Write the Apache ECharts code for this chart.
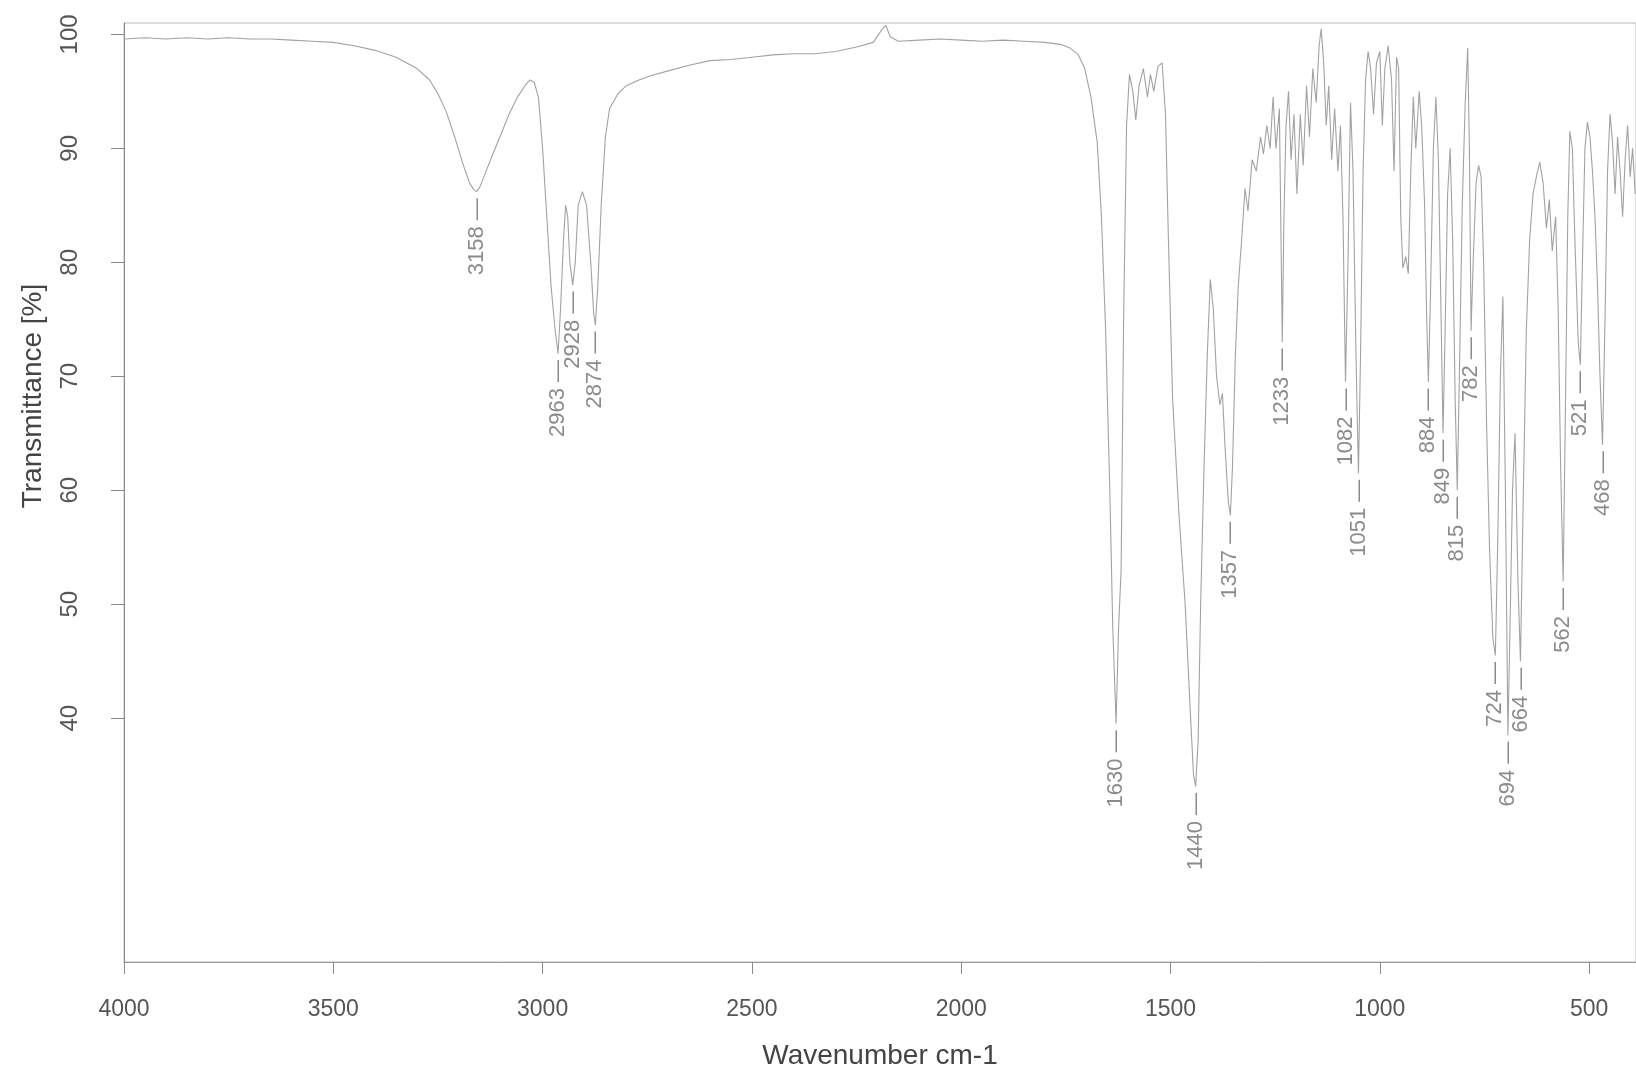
<!DOCTYPE html>
<html>
<head>
<meta charset="utf-8">
<script src="https://cdn.jsdelivr.net/npm/echarts@6/dist/echarts.min.js"></script>
<style>
html,body{margin:0;padding:0;background:#fff;}
#chart{width:1636px;height:1076px;}
</style>
</head>
<body>
<div id="chart"></div>
<script>
// ---- data ----
const wavenumbers = [
4000,3950,3900,3850,3800,3750,3700,3650,3600,3550,3500,3450,3400,3350,3300,3270,3250,3230,3210,3190,3175,3165,3158,3150,3135,3120,3100,3080,3060,3040,3030,3020,3010,3000,2990,2980,2970,2963,2957,2950,2945,2940,2935,2928,2922,2915,2905,2895,2885,2878,2874,2868,2860,2850,2840,2820,2800,2770,2740,2700,2650,2600,2550,2500,2450,2400,2350,2300,2250,2210,2190,2180,2170,2150,2100,2050,2000,1950,1900,1850,1800,1760,1740,1720,1705,1690,1675,1665,1655,1645,1638,1630,1624,1618,1612,1605,1598,1590,1583,1575,1565,1555,1548,1540,1530,1520,1512,1505,1495,1480,1465,1452,1445,1440,1434,1428,1420,1412,1405,1398,1390,1382,1376,1370,1362,1357,1352,1345,1338,1330,1322,1315,1305,1295,1285,1278,1270,1262,1255,1248,1240,1236,1233,1229,1224,1218,1212,1205,1198,1190,1183,1175,1168,1160,1152,1145,1140,1134,1128,1122,1115,1108,1100,1094,1088,1082,1076,1070,1064,1057,1051,1046,1040,1034,1028,1022,1015,1008,1000,994,988,980,972,966,960,955,950,945,938,932,926,920,914,906,900,893,888,884,879,872,866,860,854,849,844,838,832,826,820,815,810,803,796,790,786,782,777,770,764,758,752,745,738,730,724,718,712,706,700,694,689,683,677,670,664,658,650,642,634,626,618,610,602,595,588,580,574,568,562,557,551,546,540,534,526,521,516,510,504,498,492,486,480,474,468,462,456,450,444,438,432,426,420,414,408,402,396,390
];
const transmittance = [
99.6,99.7,99.6,99.7,99.6,99.7,99.6,99.6,99.5,99.4,99.3,99.0,98.6,98.0,97.0,96.0,94.8,93.2,91.0,88.6,87.0,86.4,86.2,86.6,88.0,89.4,91.2,93.0,94.5,95.6,96.0,95.8,94.5,90.0,84.0,78.0,74.0,72.0,76.0,82.0,85.0,84.0,80.0,78.0,80.0,85.0,86.2,85.0,80.0,75.5,74.5,78.0,85.0,91.0,93.5,94.8,95.5,96.0,96.4,96.8,97.3,97.7,97.8,98.0,98.2,98.3,98.3,98.5,98.9,99.3,100.4,100.8,99.8,99.4,99.5,99.6,99.5,99.4,99.5,99.4,99.3,99.1,98.8,98.2,97.0,94.5,90.5,84.0,74.0,60.0,48.0,39.5,48.0,53.0,75.0,92.0,96.5,95.0,92.5,95.5,97.0,94.5,96.5,95.0,97.2,97.5,93.0,82.0,68.0,58.0,50.0,40.0,35.0,34.0,38.0,50.0,62.0,72.0,78.5,76.0,70.0,67.5,68.5,64.0,59.0,57.8,62.0,72.0,78.0,82.0,86.5,84.5,89.0,88.0,91.0,89.5,92.0,90.0,94.5,90.0,93.5,82.0,73.0,84.0,92.0,95.0,89.0,93.0,86.0,93.0,88.5,95.5,91.0,97.0,94.0,99.0,100.5,97.5,92.0,95.5,89.0,93.5,88.0,92.0,84.0,69.5,80.0,94.0,88.0,72.0,61.5,72.0,88.0,96.0,98.5,97.0,93.0,97.5,98.5,92.0,97.0,99.0,96.0,88.0,98.0,97.0,84.0,79.5,80.5,79.0,88.0,94.5,90.0,95.0,92.0,85.0,75.0,69.5,77.0,90.0,94.5,89.0,76.0,65.0,74.0,86.0,90.0,82.0,68.0,60.0,70.0,85.0,94.0,98.8,90.0,74.0,80.0,87.0,88.5,87.5,80.0,66.0,55.0,47.0,45.5,56.0,70.0,77.0,60.0,38.5,48.0,60.0,65.0,52.0,45.0,58.0,74.0,82.0,86.0,87.5,88.8,87.0,83.0,85.5,81.0,84.0,76.0,62.0,52.0,66.0,84.0,91.5,90.0,82.0,73.0,71.0,80.0,90.0,92.3,91.0,88.0,84.0,78.0,70.0,64.0,75.0,88.0,93.0,90.5,86.0,91.0,88.0,84.0,89.0,92.0,87.5,90.0,86.0
];
const peakWavenumbers = [3158,2963,2928,2874,1630,1440,1357,1233,1082,1051,884,849,815,782,724,694,664,562,521,468];
const peakLabels = ['3158','2963','2928','2874','1630','1440','1357','1233','1082','1051','884','849','815','782','724','694','664','562','521','468'];
const xTickValues = [4000,3500,3000,2500,2000,1500,1000,500];
const yTickValues = [40,50,60,70,80,90,100];

// ---- build series data ----
const spectrum = wavenumbers.map((w, i) => [w, transmittance[i]]);
function valueAt(w) {
  let best = 0, bd = Infinity;
  wavenumbers.forEach((x, i) => { const d = Math.abs(x - w); if (d < bd) { bd = d; best = i; } });
  return transmittance[best];
}
const peaks = peakWavenumbers.map((w, i) => ({ value: [w, valueAt(w)], name: peakLabels[i] }));

const chart = echarts.init(document.getElementById('chart'), null, { renderer: 'canvas' });
const axisFont = "'Liberation Sans Narrow','Liberation Sans',Arial,sans-serif";
chart.setOption({
  animation: false,
  backgroundColor: '#ffffff',
  grid: { left: 124, right: 0, top: 23, bottom: 114, show: true, borderColor: '#b8b8b8', borderWidth: 1 },
  xAxis: {
    type: 'value', inverse: true, min: 388, max: 4000,
    name: 'Wavenumber cm-1', nameLocation: 'middle', nameGap: 80,
    nameTextStyle: { fontFamily: axisFont, fontSize: 28, color: '#444' },
    axisLine: { show: true, lineStyle: { color: '#9a9a9a', width: 1 } },
    axisTick: { show: true, length: 12, customValues: xTickValues, lineStyle: { color: '#8a8a8a' } },
    axisLabel: { customValues: xTickValues, margin: 36, fontFamily: axisFont, fontSize: 23, color: '#555',
      formatter: v => String(v) },
    splitLine: { show: false }
  },
  yAxis: {
    type: 'value', min: 18.6, max: 101,
    axisLine: { show: true, lineStyle: { color: '#8a8a8a', width: 1 } },
    axisTick: { show: true, length: 13, customValues: yTickValues, lineStyle: { color: '#8a8a8a' } },
    axisLabel: { customValues: yTickValues, rotate: 90, margin: 42, fontFamily: axisFont, fontSize: 24, color: '#555',
      formatter: v => String(v) },
    splitLine: { show: false }
  },
  graphic: [{
    type: 'text', x: 33, y: 396, rotation: Math.PI / 2,
    style: { text: 'Transmittance [%]', fontFamily: axisFont, fontSize: 28, fill: '#444', align: 'center', verticalAlign: 'middle' }
  }],
  series: [
    {
      type: 'line', data: spectrum, showSymbol: false, symbol: 'none', smooth: false,
      lineStyle: { color: '#a2a2a2', width: 1.1 }, z: 2
    },
    {
      type: 'scatter', data: peaks, symbolSize: 1, itemStyle: { color: 'rgba(0,0,0,0)' },
      label: {
        show: true, position: 'bottom', distance: 6, rotate: 90,
        align: 'right', verticalAlign: 'middle',
        formatter: p => p.name + ' \u2014',
        fontFamily: "'Liberation Sans',Arial,sans-serif", fontSize: 22, color: '#6e6e6e'
      },
      labelLayout: { hideOverlap: false }, z: 3
    }
  ]
});
</script>
</body>
</html>
